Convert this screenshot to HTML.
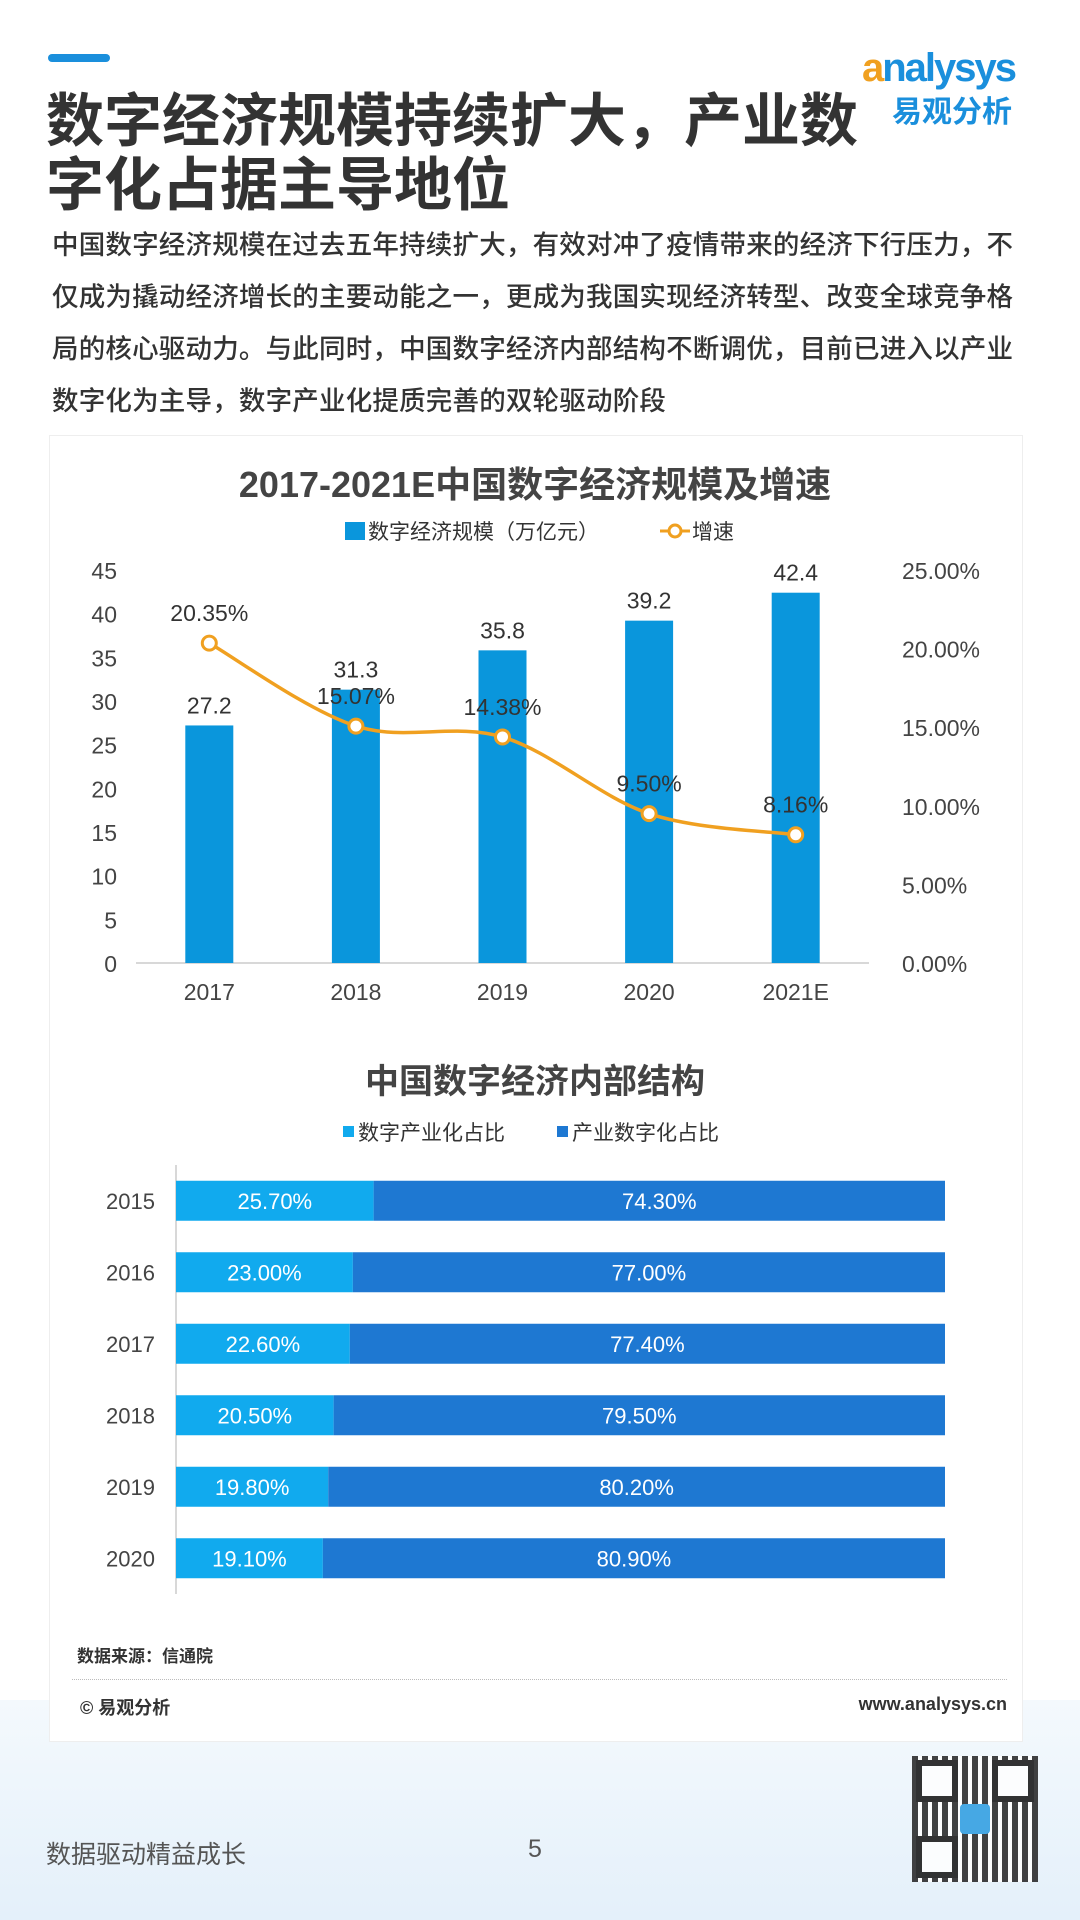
<!DOCTYPE html>
<html><head><meta charset="utf-8">
<style>
body{margin:0;width:1080px;height:1920px;position:relative;overflow:hidden;background:#fff;font-family:"Liberation Sans","Noto Sans CJK SC",sans-serif;color:#333}
.abs{position:absolute}
</style></head><body>
<div class="abs" style="left:0;top:1700px;width:1080px;height:220px;background:linear-gradient(#f4f9fd,#e4f0fa)"></div>
<div class="abs" style="left:48px;top:54px;width:62px;height:8px;border-radius:4px;background:#1a8fdc"></div>
<div class="abs" style="left:46px;top:84px;white-space:nowrap;font-family:'Noto Sans CJK SC',sans-serif;font-size:58px;font-weight:bold;line-height:64px;color:#333">数字经济规模持续扩大，产业数<br>字化占据主导地位</div>
<div class="abs" style="left:862px;top:46px;width:190px">
 <div style="font-size:40px;color:#1a8fdc;font-weight:bold;letter-spacing:-2px"><span style="color:#f0a020">a</span>nalysys</div>
 <div style="font-size:30px;color:#1a8fdc;font-weight:bold;margin-left:30px;margin-top:-4px">易观分析</div>
</div>
<div class="abs" style="left:52px;top:217px;white-space:nowrap;font-family:'Noto Sans CJK SC',sans-serif;font-size:26.5px;letter-spacing:0.2px;line-height:52px;color:#333;font-weight:500">中国数字经济规模在过去五年持续扩大，有效对冲了疫情带来的经济下行压力，不<br>仅成为撬动经济增长的主要动能之一，更成为我国实现经济转型、改变全球竞争格<br>局的核心驱动力。与此同时，中国数字经济内部结构不断调优，目前已进入以产业<br>数字化为主导，数字产业化提质完善的双轮驱动阶段</div>
<div class="abs" style="left:49px;top:435px;width:972px;height:1305px;border:1px solid #eee;background:#fff"></div>

<svg class="abs" style="left:0;top:0" width="1080" height="1920" id="svg"></svg>

<div class="abs" style="left:77px;top:1642px;font-size:17px;font-weight:bold;color:#333">数据来源：信通院</div>
<div class="abs" style="left:72px;top:1679px;width:935px;border-top:1px dotted #bbb"></div>
<div class="abs" style="left:80px;top:1694px;font-size:18px;font-weight:bold;color:#333">© 易观分析</div>
<div class="abs" style="right:73px;top:1694px;font-size:18px;font-weight:bold;color:#333">www.analysys.cn</div>
<div class="abs" style="left:46px;top:1835px;font-size:25px;color:#555">数据驱动精益成长</div>
<div class="abs" style="left:528px;top:1835px;font-size:25px;color:#555">5</div>
<div class="abs" style="left:912px;top:1756px;width:126px;height:126px;background:repeating-linear-gradient(90deg,#222 0 6px,#fff 6px 10px),#222;opacity:.85">
 <div style="position:absolute;left:4px;top:4px;width:30px;height:30px;border:6px solid #111;background:#fff"></div>
 <div style="position:absolute;right:4px;top:4px;width:30px;height:30px;border:6px solid #111;background:#fff"></div>
 <div style="position:absolute;left:4px;bottom:4px;width:30px;height:30px;border:6px solid #111;background:#fff"></div>
 <div style="position:absolute;left:48px;top:48px;width:30px;height:30px;border-radius:4px;background:#2a9be0"></div>
</div>

<script>
const years1=["2017","2018","2019","2020","2021E"];
const scale1=[27.2,31.3,35.8,39.2,42.4];
const growth1=[20.35,15.07,14.38,9.50,8.16];
const leftTicks=[0,5,10,15,20,25,30,35,40,45];
const rightTicks=["0.00%","5.00%","10.00%","15.00%","20.00%","25.00%"];
const years2=["2015","2016","2017","2018","2019","2020"];
const digitalIndustry=[25.7,23.0,22.6,20.5,19.8,19.1];
const industryDigital=[74.3,77.0,77.4,79.5,80.2,80.9];

const NS="http://www.w3.org/2000/svg";
const svg=document.getElementById('svg');
function mk(tag,attrs,parent){const e=document.createElementNS(NS,tag);for(const k in attrs)e.setAttribute(k,attrs[k]);(parent||svg).appendChild(e);return e;}
function txt(x,y,s,attrs){const e=mk('text',Object.assign({x:x,y:y,'font-family':'Liberation Sans, Noto Sans CJK SC, sans-serif'},attrs));e.textContent=s;return e;}

// chart 1
const t1=txt(535,497,"2017-2021E中国数字经济规模及增速",{'font-size':36,'font-weight':'bold','fill':'#444','text-anchor':'middle'});


const lg1=mk('rect',{x:345,y:522,width:20,height:18,fill:'#0a96dc'});


const lgt1=txt(368,539,"数字经济规模（万亿元）",{'font-size':21,fill:'#333'});


const lgl=mk('line',{x1:660,y1:531,x2:690,y2:531,stroke:'#f0a020','stroke-width':3});


const lgc=mk('circle',{cx:675,cy:531,r:6,fill:'#fff',stroke:'#f0a020','stroke-width':3});


const lgt2=txt(692,539,"增速",{'font-size':21,fill:'#333'});



const x0=136,x1=869,yTop=570,yBot=963;
const yL=v=>yBot-(v/45)*(yBot-yTop);
const yR=v=>yBot-(v/25)*(yBot-yTop);
const band=(x1-x0)/years1.length;
const xc=i=>x0+band*(i+0.5);
leftTicks.forEach(v=>{const e=txt(117,yL(v)+9,String(v),{'font-size':23,fill:'#444','text-anchor':'end'});

});
rightTicks.forEach((s,i)=>{const e=txt(902,yR(i*5)+9,s,{'font-size':23,fill:'#444'});

});
const ax=mk('line',{x1:x0,y1:yBot,x2:x1,y2:yBot,stroke:'#ccc','stroke-width':1.5});


years1.forEach((y,i)=>{
 const b=mk('rect',{x:xc(i)-24,y:yL(scale1[i]),width:48,height:yBot-yL(scale1[i]),fill:'#0a96dc'});
 
 
 const l=txt(xc(i),yL(scale1[i])-12,scale1[i].toFixed(1),{'font-size':23,fill:'#333','text-anchor':'middle'});
 
 
 const xl=txt(xc(i),1000,y,{'font-size':23,fill:'#444','text-anchor':'middle'});
 
 
});
const pts=growth1.map((g,i)=>[xc(i),yR(g)]);
let d="M"+pts[0][0]+","+pts[0][1];
for(let i=0;i<pts.length-1;i++){const p0=pts[Math.max(i-1,0)],p1=pts[i],p2=pts[i+1],p3=pts[Math.min(i+2,pts.length-1)];
 const c1=[p1[0]+(p2[0]-p0[0])/6,p1[1]+(p2[1]-p0[1])/6],c2=[p2[0]-(p3[0]-p1[0])/6,p2[1]-(p3[1]-p1[1])/6];
 d+=" C"+c1+" "+c2+" "+p2;}
const ln=mk('path',{d:d,fill:'none',stroke:'#f0a020','stroke-width':3.5});


pts.forEach((p,i)=>{
 const c=mk('circle',{cx:p[0],cy:p[1],r:7,fill:'#fff',stroke:'#f0a020','stroke-width':3});
 
 
 const l=txt(p[0],p[1]-22,growth1[i].toFixed(2)+"%",{'font-size':23,fill:'#333','text-anchor':'middle'});
 
 
});

// chart 2
const t2=txt(535,1093,"中国数字经济内部结构",{'font-size':34,'font-weight':'bold','fill':'#444','text-anchor':'middle'});


const s1=mk('rect',{x:343,y:1126,width:11,height:11,fill:'#11aaee'});


const st1=txt(358,1140,"数字产业化占比",{'font-size':21,fill:'#333'});


const s2=mk('rect',{x:557,y:1126,width:11,height:11,fill:'#1e78d2'});


const st2=txt(572,1140,"产业数字化占比",{'font-size':21,fill:'#333'});


const bx0=176,bx1=945,rowTop=1165,rowH=71.5;
const xs=v=>bx0+(v/100)*(bx1-bx0);
const ax2=mk('line',{x1:bx0,y1:rowTop,x2:bx0,y2:rowTop+rowH*6,stroke:'#ccc','stroke-width':1.5});


years2.forEach((y,i)=>{
 const cy=rowTop+rowH*(i+0.5);
 const a=mk('rect',{x:xs(0),y:cy-20,width:xs(digitalIndustry[i])-xs(0),height:40,fill:'#11aaee'});
 
 
 const b=mk('rect',{x:xs(digitalIndustry[i]),y:cy-20,width:xs(digitalIndustry[i]+industryDigital[i])-xs(digitalIndustry[i]),height:40,fill:'#1e78d2'});
 
 
 const la=txt((xs(0)+xs(digitalIndustry[i]))/2,cy+8,digitalIndustry[i].toFixed(2)+"%",{'font-size':22,fill:'#fff','text-anchor':'middle'});
 
 
 const lb=txt((xs(digitalIndustry[i])+xs(digitalIndustry[i]+industryDigital[i]))/2,cy+8,industryDigital[i].toFixed(2)+"%",{'font-size':22,fill:'#fff','text-anchor':'middle'});
 
 
 const yl=txt(155,cy+8,y,{'font-size':22,fill:'#444','text-anchor':'end'});
 
 
});
</script>
</body></html>
